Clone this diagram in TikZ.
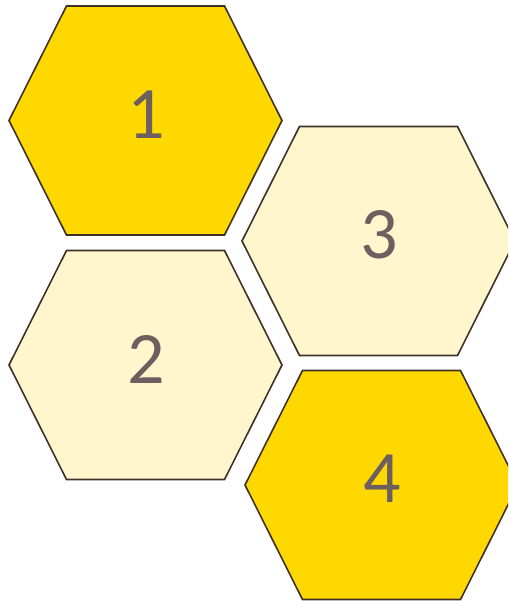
\documentclass[tikz,border=0pt]{standalone}
\usepackage{fontspec}
\setmainfont{Carlito}
\usepackage{tikz}
\definecolor{hxgold}{HTML}{FFD800}
\definecolor{hxpale}{HTML}{FFF6CE}
\definecolor{hxedge}{HTML}{3F3128}
\definecolor{hxtext}{HTML}{6E5F5F}

\begin{document}
\begin{tikzpicture}[x=1pt,y=-1pt,
  cell/.style={draw=hxedge,line width=1.6pt,line join=miter},
  num/.style={text=hxtext,font=\fontsize{74}{74}\selectfont,inner sep=0pt}]
  \useasboundingbox (0,0) rectangle (508,601);
  \clip (0,0) rectangle (508,601);
  \foreach \cx/\cy/\col/\lab in {145.5/120.5/hxgold/1, 145.5/365/hxpale/2,
      378.5/241/hxpale/3, 381.5/485/hxgold/4}{
    \draw[cell,fill=\col] (\cx-136.5,\cy) -- (\cx-79,\cy-114.5) -- (\cx+79,\cy-114.5)
      -- (\cx+136.5,\cy) -- (\cx+79,\cy+114.5) -- (\cx-79,\cy+114.5) -- cycle;
    \node[num] (hex\lab) at (\cx+1,\cy-6) {\lab};
  }
\end{tikzpicture}
\end{document}
